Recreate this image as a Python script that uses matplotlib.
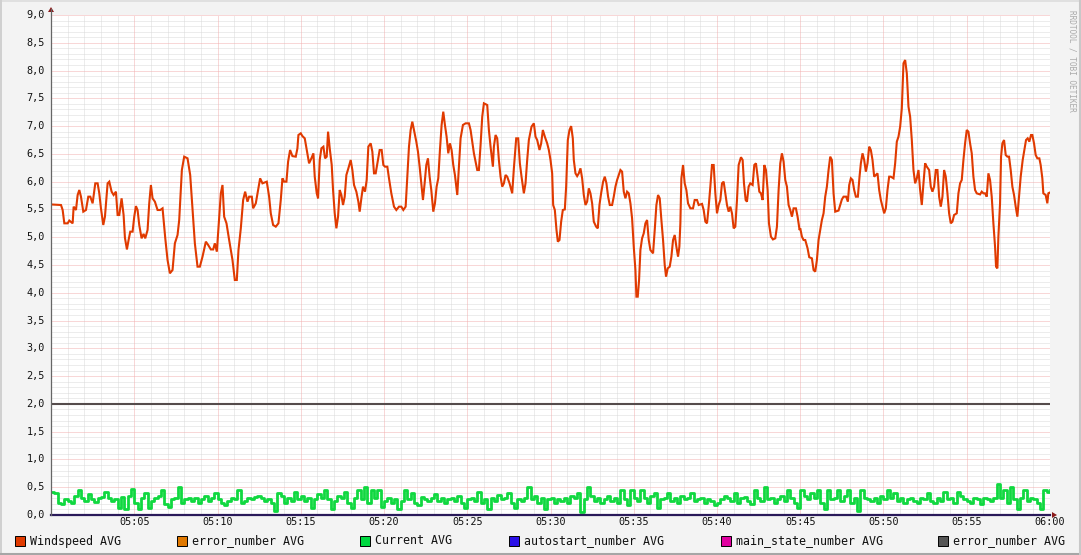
import numpy as np
import matplotlib
matplotlib.use("Agg")
import matplotlib.pyplot as plt
from matplotlib.patches import Rectangle, Polygon
from matplotlib.lines import Line2D

# ---------------- data ----------------
# Windspeed AVG: minutes after 05:00 and values
ws_t1 = [0, .6, .7, .8, 1.0, 1.1, 1.3, 1.36, 1.5, 1.6, 1.7, 1.8, 1.94, 2.1, 2.24, 2.36, 2.5, 2.66, 2.8, 2.9,
         3.0, 3.14, 3.24, 3.4, 3.5, 3.64, 3.76, 3.9, 4.0, 4.1, 4.24, 4.36, 4.44, 4.56, 4.66, 4.76, 4.9, 5.0, 5.1, 5.2,
         5.3, 5.44, 5.56, 5.66, 5.8, 5.9, 6.0, 6.1, 6.24, 6.4, 6.56, 6.7, 6.86, 7.0, 7.14, 7.3, 7.44, 7.6, 7.7, 7.86,
         8.0, 8.2, 8.36, 8.5, 8.64, 8.8, 8.94, 9.1, 9.3, 9.44, 9.6, 9.74, 9.84, 9.96, 10.06, 10.2, 10.3, 10.4, 10.54, 10.7,
         10.9, 11.04, 11.16, 11.26, 11.4, 11.54, 11.66, 11.8, 11.9, 12.06, 12.14, 12.3, 12.44, 12.56, 12.7, 12.96, 13.1, 13.2, 13.34, 13.5,
         13.66, 13.8, 13.9, 14.0, 14.14, 14.24, 14.36, 14.5, 14.7, 14.8, 14.86]
ws_v1 = [5.59, 5.58, 5.49, 5.25, 5.25, 5.30, 5.25, 5.55, 5.49, 5.76, 5.85, 5.73, 5.46, 5.49, 5.73, 5.73, 5.61, 5.97, 5.97, 5.79,
         5.52, 5.22, 5.37, 5.97, 6.00, 5.82, 5.76, 5.82, 5.40, 5.40, 5.70, 5.40, 4.99, 4.78, 4.95, 5.10, 5.10, 5.37, 5.56, 5.49,
         5.22, 4.98, 5.06, 4.98, 5.13, 5.61, 5.94, 5.70, 5.64, 5.49, 5.49, 5.52, 4.99, 4.59, 4.35, 4.41, 4.89, 5.04, 5.31, 6.21,
         6.45, 6.42, 6.12, 5.49, 4.89, 4.47, 4.47, 4.65, 4.92, 4.86, 4.78, 4.78, 4.89, 4.74, 5.19, 5.79, 5.94, 5.37, 5.25, 4.95,
         4.59, 4.23, 4.23, 4.77, 5.16, 5.67, 5.82, 5.64, 5.73, 5.73, 5.52, 5.61, 5.85, 6.06, 5.97, 6.00, 5.73, 5.43, 5.22, 5.19,
         5.25, 5.67, 6.06, 6.00, 6.00, 6.36, 6.57, 6.46, 6.45, 6.60, 6.84]

ws_t2 = [15.0, 15.1, 15.24, 15.36, 15.5, 15.64, 15.76, 15.84, 15.96, 16.04, 16.14, 16.24, 16.36, 16.46, 16.56, 16.64, 16.74, 16.86, 16.94, 17.04,
         17.14, 17.24, 17.34, 17.44, 17.54, 17.64, 17.74, 17.86, 18.0, 18.1, 18.2, 18.34, 18.46, 18.54, 18.64, 18.74, 18.86, 18.96, 19.06, 19.2,
         19.3, 19.4, 19.5, 19.6, 19.74, 19.86, 19.96, 20.06, 20.2, 20.3, 20.44, 20.6, 20.74, 20.9, 21.04, 21.16, 21.3, 21.4, 21.5, 21.6,
         21.7, 21.8, 21.94, 22.04, 22.14, 22.24, 22.34, 22.44, 22.54, 22.64, 22.74, 22.84, 22.96, 23.06, 23.16, 23.26, 23.36, 23.46, 23.56, 23.66,
         23.76, 23.86, 23.96, 24.06, 24.16, 24.26, 24.4, 24.5, 24.6, 24.74, 24.9, 25.1, 25.2, 25.3, 25.4, 25.5, 25.6, 25.7, 25.8, 25.9,
         26.0, 26.2, 26.3, 26.4, 26.54, 26.6, 26.7, 26.8, 26.9, 27.0, 27.1, 27.2, 27.3, 27.4, 27.54, 27.7, 27.8, 27.94, 28.06, 28.16,
         28.26, 28.4, 28.5, 28.6, 28.7, 28.86, 29.0, 29.1, 29.2, 29.34, 29.44, 29.54, 29.66, 29.8, 29.9]
ws_v2 = [6.87, 6.82, 6.78, 6.57, 6.33, 6.42, 6.51, 6.09, 5.79, 5.70, 6.39, 6.60, 6.63, 6.42, 6.45, 6.90, 6.60, 6.30, 5.85, 5.43,
         5.16, 5.37, 5.85, 5.76, 5.58, 5.73, 6.12, 6.24, 6.39, 6.21, 5.94, 5.82, 5.64, 5.46, 5.70, 5.91, 5.82, 6.03, 6.63, 6.69,
         6.54, 6.15, 6.15, 6.33, 6.57, 6.57, 6.30, 6.27, 6.27, 6.06, 5.79, 5.55, 5.49, 5.55, 5.55, 5.49, 5.55, 6.09, 6.63, 6.93,
         7.08, 6.93, 6.72, 6.54, 6.27, 5.97, 5.67, 5.97, 6.30, 6.42, 6.09, 5.85, 5.46, 5.61, 5.91, 6.06, 6.57, 7.02, 7.26, 7.02,
         6.81, 6.51, 6.69, 6.57, 6.30, 6.12, 5.76, 6.27, 6.78, 7.02, 7.05, 7.05, 6.93, 6.72, 6.51, 6.36, 6.21, 6.21, 6.66, 7.17,
         7.41, 7.38, 6.93, 6.63, 6.27, 6.63, 6.84, 6.78, 6.39, 6.09, 5.91, 5.97, 6.12, 6.09, 5.97, 5.79, 6.24, 6.78, 6.78, 6.33,
         6.09, 5.79, 5.97, 6.39, 6.75, 6.99, 7.05, 6.81, 6.75, 6.57, 6.69, 6.93, 6.81, 6.69, 6.57]

ws_t3 = [30.0, 30.1, 30.16, 30.26, 30.36, 30.44, 30.54, 30.64, 30.74, 30.86, 30.94, 31.04, 31.14, 31.24, 31.34, 31.4, 31.5, 31.6, 31.7, 31.8,
         31.9, 32.0, 32.1, 32.2, 32.3, 32.4, 32.5, 32.6, 32.74, 32.84, 32.94, 33.04, 33.16, 33.26, 33.36, 33.46, 33.56, 33.7, 33.8, 33.9,
         34.0, 34.1, 34.2, 34.3, 34.4, 34.5, 34.6, 34.7, 34.8, 34.9, 35.0, 35.1, 35.16, 35.24, 35.32, 35.4, 35.5, 35.6, 35.7, 35.8,
         35.9, 36.0, 36.16, 36.26, 36.36, 36.46, 36.56, 36.66, 36.76, 36.86, 36.94, 37.04, 37.16, 37.26, 37.36, 37.46, 37.56, 37.66, 37.74, 37.8,
         37.86, 37.96, 38.06, 38.16, 38.26, 38.4, 38.56, 38.66, 38.8, 38.9, 39.1, 39.2, 39.3, 39.4, 39.5, 39.6, 39.7, 39.8, 39.9, 40.0,
         40.1, 40.2, 40.3, 40.4, 40.5, 40.6, 40.7, 40.8, 40.9, 41.0, 41.1, 41.2, 41.3, 41.44, 41.54, 41.62, 41.72, 41.8, 41.9, 42.0,
         42.14, 42.24, 42.34, 42.44, 42.54, 42.64, 42.74, 42.84, 42.94, 43.04, 43.12, 43.24, 43.36, 43.5, 43.6, 43.7, 43.8, 43.9, 44.0, 44.1,
         44.2, 44.3, 44.4, 44.5, 44.6, 44.74, 44.84, 44.96]
ws_v3 = [6.39, 6.15, 5.58, 5.49, 5.13, 4.92, 4.95, 5.28, 5.49, 5.50, 5.91, 6.75, 6.93, 7.00, 6.78, 6.39, 6.15, 6.10, 6.15, 6.24,
         6.06, 5.76, 5.58, 5.64, 5.88, 5.79, 5.61, 5.28, 5.19, 5.16, 5.58, 5.79, 6.00, 6.09, 5.97, 5.73, 5.58, 5.58, 5.73, 5.91,
         6.03, 6.12, 6.21, 6.18, 5.82, 5.70, 5.82, 5.79, 5.61, 5.34, 4.83, 4.41, 3.93, 3.93, 4.23, 4.77, 4.98, 5.07, 5.25, 5.31,
         4.95, 4.77, 4.71, 5.13, 5.58, 5.76, 5.70, 5.31, 4.95, 4.50, 4.29, 4.44, 4.47, 4.65, 4.95, 5.04, 4.83, 4.65, 4.83, 5.25,
         6.06, 6.30, 5.97, 5.85, 5.61, 5.52, 5.52, 5.67, 5.67, 5.58, 5.60, 5.49, 5.28, 5.25, 5.55, 5.91, 6.30, 6.30, 5.79, 5.43,
         5.58, 5.67, 5.97, 6.00, 5.79, 5.58, 5.46, 5.55, 5.43, 5.16, 5.19, 5.67, 6.30, 6.44, 6.39, 5.97, 5.67, 5.64, 5.91, 5.97,
         5.94, 6.30, 6.33, 6.09, 5.82, 5.79, 5.67, 6.30, 6.21, 5.85, 5.25, 5.01, 4.96, 4.98, 5.19, 5.85, 6.33, 6.51, 6.36, 6.03,
         5.91, 5.58, 5.49, 5.37, 5.52, 5.52, 5.37, 5.13]

ws_t4 = [45.0, 45.1, 45.2, 45.3, 45.44, 45.54, 45.7, 45.8, 45.9, 46.0, 46.1, 46.2, 46.3, 46.4, 46.5, 46.6, 46.7, 46.8, 46.9, 47.0,
         47.1, 47.3, 47.4, 47.5, 47.6, 47.76, 47.86, 47.94, 48.04, 48.14, 48.24, 48.34, 48.46, 48.56, 48.64, 48.74, 48.84, 48.94, 49.04, 49.14,
         49.24, 49.34, 49.44, 49.54, 49.64, 49.74, 49.84, 49.94, 50.04, 50.14, 50.24, 50.34, 50.44, 50.6, 50.7, 50.8, 50.9, 51.0, 51.1, 51.2,
         51.3, 51.4, 51.5, 51.6, 51.7, 51.8, 51.9, 52.0, 52.1, 52.2, 52.3, 52.4, 52.5, 52.6, 52.74, 52.84, 52.94, 53.04, 53.14, 53.24,
         53.34, 53.44, 53.54, 53.64, 53.74, 53.84, 53.94, 54.04, 54.14, 54.24, 54.4, 54.5, 54.6, 54.7, 54.8, 54.9, 55.0, 55.1, 55.2, 55.3,
         55.4, 55.5, 55.6, 55.8, 55.9, 56.0, 56.1, 56.2, 56.3, 56.4, 56.5, 56.6, 56.7, 56.76, 56.84, 56.9, 57.0, 57.06, 57.14, 57.24,
         57.34, 57.44, 57.54, 57.64, 57.74, 57.84, 57.94, 58.04, 58.14, 58.24, 58.36, 58.46, 58.56, 58.66, 58.76, 58.86, 58.94, 59.04, 59.14, 59.24,
         59.36, 59.44, 59.54, 59.6, 59.74, 59.84, 59.9, 59.96]
ws_v4 = [5.16, 5.01, 4.95, 4.95, 4.80, 4.64, 4.62, 4.41, 4.38, 4.59, 4.95, 5.13, 5.31, 5.43, 5.73, 5.91, 6.21, 6.45, 6.39, 5.79,
         5.46, 5.48, 5.58, 5.68, 5.73, 5.73, 5.64, 5.94, 6.06, 6.03, 5.85, 5.73, 5.73, 6.09, 6.33, 6.51, 6.39, 6.18, 6.33, 6.63,
         6.57, 6.39, 6.09, 6.12, 6.15, 5.85, 5.67, 5.55, 5.43, 5.52, 5.85, 6.09, 6.09, 6.06, 6.33, 6.72, 6.81, 6.99, 7.32, 8.13,
         8.19, 7.95, 7.35, 7.17, 6.75, 6.21, 5.97, 6.06, 6.21, 5.85, 5.58, 5.97, 6.33, 6.27, 6.21, 5.91, 5.82, 5.91, 6.21, 6.21,
         5.73, 5.55, 5.73, 6.21, 6.09, 5.79, 5.43, 5.25, 5.28, 5.40, 5.43, 5.79, 5.97, 6.03, 6.39, 6.69, 6.93, 6.90, 6.69, 6.51,
         6.09, 5.85, 5.79, 5.77, 5.82, 5.79, 5.79, 5.73, 6.15, 6.03, 5.73, 5.25, 4.83, 4.47, 4.44, 5.01, 5.61, 6.45, 6.69, 6.75,
         6.48, 6.45, 6.45, 6.21, 5.91, 5.76, 5.55, 5.37, 5.73, 6.09, 6.39, 6.57, 6.75, 6.78, 6.72, 6.84, 6.84, 6.69, 6.48, 6.42,
         6.42, 6.30, 6.06, 5.79, 5.76, 5.61, 5.79, 5.80]

# Current AVG: one sample every 0.2 min from 05:00
cur_step_min = 0.2
cur_v = [0.42, 0.40, 0.22, 0.20, 0.28, 0.25, 0.22, 0.35, 0.45, 0.30,
         0.25, 0.38, 0.28, 0.24, 0.30, 0.33, 0.42, 0.30, 0.25, 0.28,
         0.12, 0.32, 0.10, 0.35, 0.46, 0.22, 0.10, 0.30, 0.40, 0.12,
         0.25, 0.30, 0.35, 0.45, 0.20, 0.15, 0.28, 0.30, 0.50, 0.22,
         0.28, 0.30, 0.25, 0.30, 0.22, 0.28, 0.35, 0.25, 0.30, 0.40,
         0.28, 0.22, 0.18, 0.25, 0.30, 0.28, 0.45, 0.22, 0.25, 0.30,
         0.28, 0.32, 0.35, 0.30, 0.25, 0.28, 0.22, 0.08, 0.40, 0.35,
         0.22, 0.30, 0.25, 0.42, 0.28, 0.35, 0.25, 0.30, 0.12, 0.28,
         0.38, 0.30, 0.45, 0.28, 0.10, 0.25, 0.35, 0.30, 0.42, 0.22,
         0.12, 0.30, 0.45, 0.28, 0.50, 0.22, 0.45, 0.30, 0.45, 0.15,
         0.25, 0.30, 0.22, 0.28, 0.10, 0.25, 0.45, 0.28, 0.40, 0.22,
         0.18, 0.32, 0.28, 0.25, 0.30, 0.38, 0.25, 0.30, 0.22, 0.28,
         0.30, 0.25, 0.35, 0.22, 0.12, 0.28, 0.30, 0.25, 0.42, 0.22,
         0.28, 0.10, 0.30, 0.25, 0.36, 0.28, 0.30, 0.40, 0.22, 0.12,
         0.28, 0.25, 0.30, 0.50, 0.28, 0.35, 0.22, 0.30, 0.10, 0.28,
         0.30, 0.22, 0.28, 0.25, 0.30, 0.22, 0.35, 0.30, 0.40, 0.05,
         0.28, 0.50, 0.35, 0.25, 0.30, 0.22, 0.28, 0.35, 0.25, 0.30,
         0.22, 0.45, 0.28, 0.18, 0.45, 0.30, 0.25, 0.45, 0.30, 0.22,
         0.35, 0.40, 0.12, 0.28, 0.30, 0.40, 0.25, 0.30, 0.22, 0.35,
         0.28, 0.30, 0.40, 0.25, 0.28, 0.30, 0.22, 0.28, 0.25, 0.18,
         0.22, 0.28, 0.35, 0.30, 0.25, 0.40, 0.22, 0.30, 0.32, 0.25,
         0.20, 0.45, 0.30, 0.25, 0.50, 0.28, 0.30, 0.22, 0.28, 0.35,
         0.25, 0.45, 0.30, 0.22, 0.12, 0.45, 0.35, 0.28, 0.40, 0.30,
         0.45, 0.22, 0.10, 0.45, 0.28, 0.30, 0.45, 0.25, 0.35, 0.45,
         0.22, 0.30, 0.08, 0.45, 0.30, 0.28, 0.25, 0.30, 0.22, 0.35,
         0.28, 0.45, 0.30, 0.40, 0.25, 0.30, 0.22, 0.28, 0.30, 0.25,
         0.22, 0.30, 0.28, 0.40, 0.25, 0.22, 0.30, 0.25, 0.42, 0.28,
         0.30, 0.22, 0.42, 0.35, 0.28, 0.25, 0.22, 0.30, 0.28, 0.20,
         0.30, 0.28, 0.25, 0.30, 0.55, 0.30, 0.45, 0.22, 0.50, 0.28,
         0.10, 0.30, 0.45, 0.25, 0.30, 0.28, 0.22, 0.10, 0.45, 0.42,
         0.45]

error_level = 2.0      # error_number AVG (grey)
zero_level = 0.0       # autostart / main_state / error_number at zero

y_ticks = [i * 0.5 for i in range(19)]
x_tick_minutes = [5, 10, 15, 20, 25, 30, 35, 40, 45, 50, 55, 60]
x_tick_labels = ["05:05", "05:10", "05:15", "05:20", "05:25", "05:30", "05:35", "05:40", "05:45", "05:50", "05:55", "06:00"]

legend_labels = ["Windspeed AVG", "error_number AVG", "Current AVG", "autostart_number AVG",
                 "main_state_number AVG", "error_number AVG"]
legend_colors = ["#e03a00", "#e07800", "#00d840", "#2a10e8", "#e000a0", "#555555"]

# ---------------- figure ----------------
W, H = 1081, 555
fig = plt.figure(figsize=(W / 100, H / 100), dpi=100)
fig.patch.set_facecolor("#f3f3f3")
FONT = "DejaVu Sans Mono"

L, R, T, B = 51, 1050, 15, 515
ax = fig.add_axes([L / W, 1 - B / H, (R - L) / W, (B - T) / H])
ax.set_facecolor("white")
ax.set_xlim(0, 60)
ax.set_ylim(0, 9)
for s in ax.spines.values():
    s.set_visible(False)
ax.tick_params(length=0)
ax.set_xticks([])
ax.set_yticks([])

# grid
dot = (0, (1, 1))
for m in range(1, 60):
    if m % 5:
        ax.axvline(m, color="#dadada", lw=0.72, ls=dot, zorder=1)
for k in range(1, 90):
    if k % 5:
        ax.axhline(k / 10, color="#dadada", lw=0.72, ls=dot, zorder=1)
for m in range(5, 61, 5):
    ax.axvline(m, color="#f2b0b0", lw=0.72, ls=dot, zorder=1.5)
for yv in y_ticks[1:]:
    ax.axhline(yv, color="#f2b0b0", lw=0.72, ls=dot, zorder=1.5)

# data
for tt, vv in ((ws_t1, ws_v1), (ws_t2, ws_v2), (ws_t3, ws_v3), (ws_t4, ws_v4)):
    assert len(tt) == len(vv)
ws_t = ws_t1 + ws_t2 + ws_t3 + ws_t4
ws_v = ws_v1 + ws_v2 + ws_v3 + ws_v4
ax.plot(ws_t, ws_v, color="#e03a00", lw=1.5, zorder=3, solid_joinstyle="miter")

cur_t = np.arange(len(cur_v)) * cur_step_min
ax.step(cur_t, cur_v, where="post", color="#10d840", lw=2.0, zorder=3)

ax.axhline(error_level, color="#554c4c", lw=1.5, zorder=3)
ax.axhline(zero_level, color="#2a1a5a", lw=1.6, zorder=4, clip_on=False)

# y axis line
fig.add_artist(Line2D([L / W, L / W], [1 - B / H, 1 - 9 / H], color="#666666", lw=0.9))
# arrows
fig.add_artist(Polygon([[(L - 3) / W, 1 - 12 / H], [(L + 3) / W, 1 - 12 / H], [L / W, 1 - 7 / H]],
                       closed=True, color="#8b1a1a", lw=0))
fig.add_artist(Polygon([[(R + 2) / W, 1 - (B - 3) / H], [(R + 2) / W, 1 - (B + 3) / H], [(R + 7) / W, 1 - B / H]],
                       closed=True, color="#8b1a1a", lw=0))

# y tick labels
for yv in y_ticks:
    ypix = B - yv * (B - T) / 9
    fig.text(45 / W, 1 - ypix / H, f"{yv:.1f}".replace(".", ","), ha="right", va="center",
             fontsize=7.3, family=FONT, color="#111111")
# x tick labels
for m, lab in zip(x_tick_minutes, x_tick_labels):
    fig.text((L + m * (R - L) / 60) / W, 1 - 522 / H, lab, ha="center", va="center",
             fontsize=7.3, family=FONT, color="#111111")

# legend
sw_x = [15, 177, 360, 509, 721, 938]
ly = 541
for x0, lab, col in zip(sw_x, legend_labels, legend_colors):
    fig.add_artist(Rectangle((x0 / W, 1 - (ly + 5) / H), 10 / W, 10 / H, facecolor=col,
                             edgecolor="black", lw=0.7))
    fig.text((x0 + 15) / W, 1 - ly / H, lab, ha="left", va="center", fontsize=8.4,
             family=FONT, color="#111111")

# watermark
fig.text(1072 / W, 1 - 10 / H, "RRDTOOL / TOBI OETIKER", rotation=270, ha="center", va="top",
         fontsize=5.6, family=FONT, color="#aaaaaa")

# border shading
fig.add_artist(Line2D([0, 1], [1 - 0.5 / H, 1 - 0.5 / H], color="#e0e0e0", lw=1.4))
fig.add_artist(Line2D([0.5 / W, 0.5 / W], [0, 1], color="#d0d0d0", lw=1.4))
fig.add_artist(Line2D([0, 1], [1.5 / H, 1.5 / H], color="#a6a6a6", lw=2.2))
fig.add_artist(Line2D([1 - 1.5 / W, 1 - 1.5 / W], [0, 1], color="#c8c8c8", lw=2.2))

fig.savefig("out.png", dpi=100, facecolor=fig.get_facecolor())
